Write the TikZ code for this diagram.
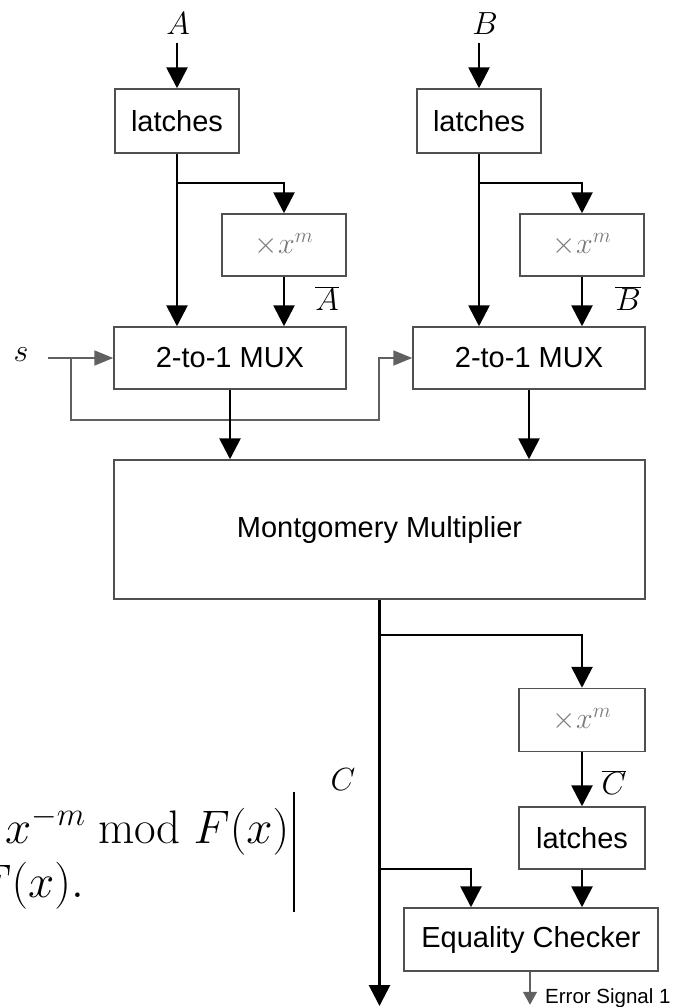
\RequirePackage{fix-cm}
\documentclass[tikz,border=0pt]{standalone}
\usepackage{fontspec}
\newfontfamily\arialfont{Liberation Sans}
\usepackage{tikz}
\usetikzlibrary{arrows.meta}
\definecolor{boxline}{HTML}{505050}
\definecolor{wiregray}{HTML}{606060}
\definecolor{shifttext}{HTML}{7A7A7A}

\begin{document}
\begin{tikzpicture}[
    x=1pt, y=-1pt,
    block/.style={draw=boxline, line width=1.5pt, fill=white, inner sep=0pt, font=\arialfont\fontsize{29}{32}\selectfont},
    shifter/.style={block, text=shifttext, font=\fontsize{30}{33}\selectfont},
    wire/.style={line width=2.8pt, -{Triangle[length=21pt,width=21pt]}},
    sigwire/.style={line width=1.8pt, draw=wiregray, -{Triangle[length=19pt,width=15pt]}},
    lbl/.style={font=\fontsize{32}{34}\selectfont, inner sep=0pt}
]
\clip (0,0) rectangle (676,1007);

\node[lbl] (inA) at (178,24) {$A$};
\node[lbl] (inB) at (485,24) {$B$};
\node[block, minimum width=124pt, minimum height=64pt] (latchA) at (177,121) {latches};
\node[block, minimum width=124pt, minimum height=64pt] (latchB) at (479,121) {latches};
\node[shifter, minimum width=124pt, minimum height=62pt] (xmA) at (284,245) {$\times x^{m}$};
\node[shifter, minimum width=124pt, minimum height=62pt] (xmB) at (582,245) {$\times x^{m}$};
\node[lbl] (barA) at (327,299) {$\overline{A}$};
\node[lbl] (barB) at (628,299) {$\overline{B}$};
\node[block, minimum width=232pt, minimum height=62pt] (muxA) at (230,358) {2-to-1 MUX};
\node[block, minimum width=232pt, minimum height=62pt] (muxB) at (529,358) {2-to-1 MUX};
\node[lbl] (sel) at (21,355) {$s$};
\node[block, minimum width=531pt, minimum height=139pt] (mont) at (379.5,529.5) {Montgomery Multiplier};
\node[shifter, minimum width=126pt, minimum height=63pt] (xmC) at (582,720) {$\times x^{m}$};
\node[lbl] (barC) at (614,783) {$\overline{C}$};
\node[lbl] (outC) at (343,780) {$C$};
\node[block, minimum width=126pt, minimum height=62pt] (latchC) at (582,838) {latches};
\node[block, minimum width=254pt, minimum height=63pt] (eq) at (531,939.5) {Equality Checker};
\node[inner sep=0pt, anchor=west, font=\arialfont\fontsize{20.5}{23}\selectfont] (err) at (545,998) {Error Signal 1};

\node[inner sep=0pt, anchor=base west, font=\fontsize{47}{50}\selectfont] (eqnA) at (5,843) {$x^{-m}\bmod F(x)$};
\node[inner sep=0pt, anchor=base east, font=\fontsize{47}{50}\selectfont] (eqnB) at (84,897) {$F(x).$};
\draw[line width=1.5pt] (294,792) -- (294,912);

\coordinate (jA) at (177,183);
\coordinate (jB) at (479,183);
\coordinate (sIn) at (48,358);
\coordinate (sJ) at (71,358);
\coordinate (sLow) at (379,420);
\coordinate (jC) at (379.5,635);
\coordinate (jEq) at (379.5,869);
\coordinate (outEnd) at (379.5,1006);

\draw[wire, shorten <=8pt] (latchA |- inA.south) -- (latchA);
\draw[wire, shorten <=8pt] (latchB |- inB.south) -- (latchB);
\draw[wire] (latchA) -- (latchA |- muxA.north);
\draw[wire] (latchB) -- (latchB |- muxB.north);
\draw[wire] (jA) -| (xmA.north);
\draw[wire] (jB) -| (xmB.north);
\draw[wire] (xmA) -- (xmA |- muxA.north);
\draw[wire] (xmB) -- (xmB |- muxB.north);
\draw[sigwire] (sIn) -- (muxA.west);
\draw[sigwire] (sJ) |- (sLow) |- (muxB.west);
\draw[wire] (muxA) -- (muxA |- mont.north);
\draw[wire] (muxB) -- (muxB |- mont.north);
\draw[wire] (mont) -- (outEnd);
\draw[wire] (jC) -| (xmC.north);
\draw[wire] (xmC) -- (latchC);
\draw[wire] (latchC) -- (latchC |- eq.north);
\draw[wire] (jEq) -| ([xshift=-60pt]eq.north);
\draw[sigwire, line width=1.2pt, -{Triangle[length=13pt,width=14pt]}] ([xshift=-1pt]eq.south) -- ([xshift=-1pt,yshift=-33pt]eq.south);
\end{tikzpicture}
\end{document}
